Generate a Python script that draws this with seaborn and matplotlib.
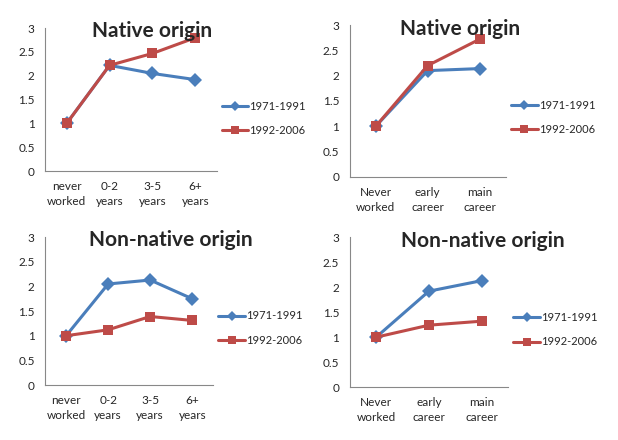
import pandas as pd
import matplotlib.pyplot as plt
import seaborn as sns

# categories
years_cats = ['never\nworked', '0-2\nyears', '3-5\nyears', '6+\nyears']
career_cats = ['Never\nworked', 'early\ncareer', 'main\ncareer']
periods = ['1971-1991', '1992-2006']

# values
native_years_old = [1.0, 2.22, 2.05, 1.92]
native_years_new = [1.0, 2.22, 2.47, 2.80]
native_career_old = [1.0, 2.10, 2.14]
native_career_new = [1.0, 2.20, 2.72]
nonnat_years_old = [1.0, 2.05, 2.13, 1.75]
nonnat_years_new = [1.0, 1.12, 1.39, 1.31]
nonnat_career_old = [1.0, 1.92, 2.13]
nonnat_career_new = [1.0, 1.24, 1.32]

blue = '#4A7EBB'
red = '#BE4B48'

sns.set_style('white')
plt.rcParams['font.family'] = ['Lato', 'DejaVu Sans']

fig = plt.figure(figsize=(6.18, 4.4), dpi=100)


def panel(rect, cats, old, new, title, title_xy, leg_y):
    ax = fig.add_axes(rect)
    df = pd.DataFrame({
        'x': list(range(len(cats))) * 2,
        'y': old + new,
        'period': [periods[0]] * len(cats) + [periods[1]] * len(cats),
    })
    sns.lineplot(data=df, x='x', y='y', hue='period', style='period',
                 markers={periods[0]: 'D', periods[1]: 's'}, dashes=False,
                 palette={periods[0]: blue, periods[1]: red},
                 linewidth=2.2, markersize=7, markeredgewidth=0, ax=ax)
    ax.set_xlim(-0.5, len(cats) - 0.5)
    ax.set_ylim(0, 3)
    ax.set_yticks([0, 0.5, 1, 1.5, 2, 2.5, 3])
    ax.set_yticklabels(['0', '0.5', '1', '1.5', '2', '2.5', '3'])
    ax.set_xticks([i - 0.5 for i in range(len(cats) + 1)])
    ax.set_xticklabels([])
    ax.set_xticks(range(len(cats)), minor=True)
    ax.set_xticklabels(cats, minor=True, linespacing=1.45)
    ax.tick_params(axis='x', which='minor', length=0, pad=7, labelsize=8.5)
    ax.tick_params(axis='x', which='major', length=4, width=0.8, color='#888888')
    ax.tick_params(axis='y', length=4, width=0.8, color='#888888', labelsize=8.5)
    ax.set_xlabel('')
    ax.set_ylabel('')
    for s in ['top', 'right']:
        ax.spines[s].set_visible(False)
    for s in ['left', 'bottom']:
        ax.spines[s].set_color('#888888')
        ax.spines[s].set_linewidth(0.8)
    handles, labels = ax.get_legend_handles_labels()
    for h in handles:
        h.set_markersize(5.5)
    ax.legend(handles, labels, loc='center left', bbox_to_anchor=(0.97, leg_y),
              frameon=False, fontsize=8, handlelength=2.4, labelspacing=1.2,
              handletextpad=0.1)
    fig.text(title_xy[0], title_xy[1], title, ha='center', va='center',
             fontsize=15, fontweight='bold')
    return ax


panel([0.073, 0.611, 0.278, 0.325], years_cats, native_years_old,
      native_years_new, 'Native origin', (152 / 618, 1 - 31 / 440), 0.37)
panel([0.566, 0.598, 0.252, 0.345], career_cats, native_career_old,
      native_career_new, 'Native origin', (460 / 618, 1 - 29 / 440), 0.39)
panel([0.073, 0.125, 0.272, 0.336], years_cats, nonnat_years_old,
      nonnat_years_new, 'Non-native origin', (171 / 618, 1 - 240 / 440), 0.385)
panel([0.566, 0.120, 0.256, 0.341], career_cats, nonnat_career_old,
      nonnat_career_new, 'Non-native origin', (483 / 618, 1 - 241 / 440), 0.383)

fig.savefig('out.png', dpi=100)
